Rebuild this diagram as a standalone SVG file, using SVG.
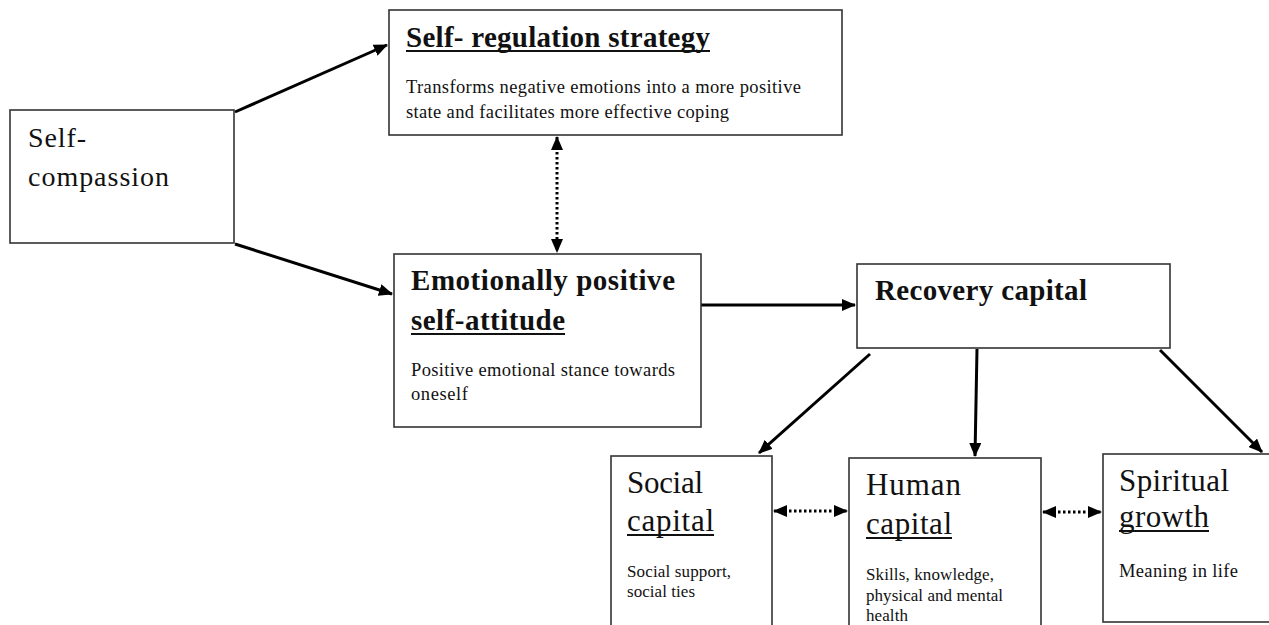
<svg xmlns="http://www.w3.org/2000/svg" width="1269" height="625" viewBox="0 0 1269 625">
<defs>
<marker id="ah" markerWidth="14" markerHeight="12" refX="13" refY="6" orient="auto-start-reverse" markerUnits="userSpaceOnUse">
<path d="M0,0 L14,6 L0,12 Z" fill="#000"/>
</marker>
<style>
.box{fill:#fff;stroke:#333;stroke-width:1.6}
.arr{stroke:#000;stroke-width:3;fill:none}
.dot{stroke:#000;stroke-width:3;fill:none;stroke-dasharray:2.5 2.5}
.ul{stroke:#111;stroke-width:1.8}
.h{font-family:"Liberation Serif",serif;font-weight:bold;fill:#111;font-size:29px}
.hr{font-family:"Liberation Serif",serif;fill:#111;font-size:31px}
.c{font-family:"Liberation Serif",serif;fill:#111;font-size:28px}
.b{font-family:"Liberation Serif",serif;fill:#111;font-size:18.5px}
.s{font-family:"Liberation Serif",serif;fill:#111;font-size:17px}
</style>
</defs>
<rect width="1269" height="625" fill="#fff"/>
<g id="connectors">
<line class="arr" x1="235" y1="112" x2="387" y2="45" marker-end="url(#ah)"/>
<line class="arr" x1="235" y1="244" x2="392" y2="294" marker-end="url(#ah)"/>
<line class="dot" x1="557" y1="137" x2="557" y2="252" marker-start="url(#ah)" marker-end="url(#ah)"/>
<line class="arr" x1="701" y1="305" x2="855" y2="305" marker-end="url(#ah)"/>
<line class="arr" x1="870" y1="354" x2="759" y2="453" marker-end="url(#ah)"/>
<line class="arr" x1="977" y1="349" x2="975" y2="456" marker-end="url(#ah)"/>
<line class="arr" x1="1160" y1="350" x2="1262" y2="452" marker-end="url(#ah)"/>
<line class="dot" x1="774" y1="511" x2="847" y2="511" marker-start="url(#ah)" marker-end="url(#ah)"/>
<line class="dot" x1="1043" y1="512" x2="1101" y2="512" marker-start="url(#ah)" marker-end="url(#ah)"/>
</g>
<g id="self-compassion">
<rect class="box" x="10" y="110" width="224" height="133"/>
<text class="c" x="28" y="147" textLength="58">Self-</text>
<text class="c" x="28" y="186" textLength="141">compassion</text>
</g>
<g id="self-regulation">
<rect class="box" x="389" y="10" width="453" height="125"/>
<text class="h" x="406" y="47" textLength="304">Self- regulation strategy</text>
<line class="ul" x1="406" y1="51" x2="710" y2="51"/>
<text class="b" x="406" y="93" textLength="395">Transforms negative emotions into a more positive</text>
<text class="b" x="406" y="118" textLength="323">state and facilitates more effective coping</text>
</g>
<g id="emotional-self-attitude">
<rect class="box" x="394" y="254" width="307" height="173"/>
<text class="h" x="411" y="290" textLength="264">Emotionally positive</text>
<text class="h" x="411" y="330" textLength="154">self-attitude</text>
<line class="ul" x1="411" y1="334" x2="565" y2="334"/>
<text class="b" x="411" y="376" textLength="264">Positive emotional stance towards</text>
<text class="b" x="411" y="400" textLength="57">oneself</text>
</g>
<g id="recovery-capital">
<rect class="box" x="857" y="264" width="313" height="84"/>
<text class="h" x="875" y="300" textLength="212">Recovery capital</text>
</g>
<g id="social-capital">
<rect class="box" x="611" y="456" width="161" height="180"/>
<text class="hr" x="627" y="493" textLength="76">Social</text>
<text class="hr" x="627" y="531" textLength="87">capital</text>
<line class="ul" x1="627" y1="535" x2="714" y2="535"/>
<text class="s" x="627" y="577" textLength="104">Social support,</text>
<text class="s" x="627" y="597" textLength="68">social ties</text>
</g>
<g id="human-capital">
<rect class="box" x="849" y="458" width="192" height="180"/>
<text class="hr" x="866" y="495" textLength="95">Human</text>
<text class="hr" x="866" y="534" textLength="86">capital</text>
<line class="ul" x1="866" y1="538" x2="952" y2="538"/>
<text class="s" x="866" y="580" textLength="128">Skills, knowledge,</text>
<text class="s" x="866" y="601" textLength="137">physical and mental</text>
<text class="s" x="866" y="621" textLength="42">health</text>
</g>
<g id="spiritual-growth">
<rect class="box" x="1103" y="454" width="180" height="168"/>
<text class="hr" x="1119" y="491" textLength="110">Spiritual</text>
<text class="hr" x="1119" y="527" textLength="90">growth</text>
<line class="ul" x1="1119" y1="531" x2="1209" y2="531"/>
<text class="b" x="1119" y="577" textLength="119">Meaning in life</text>
</g>
</svg>
